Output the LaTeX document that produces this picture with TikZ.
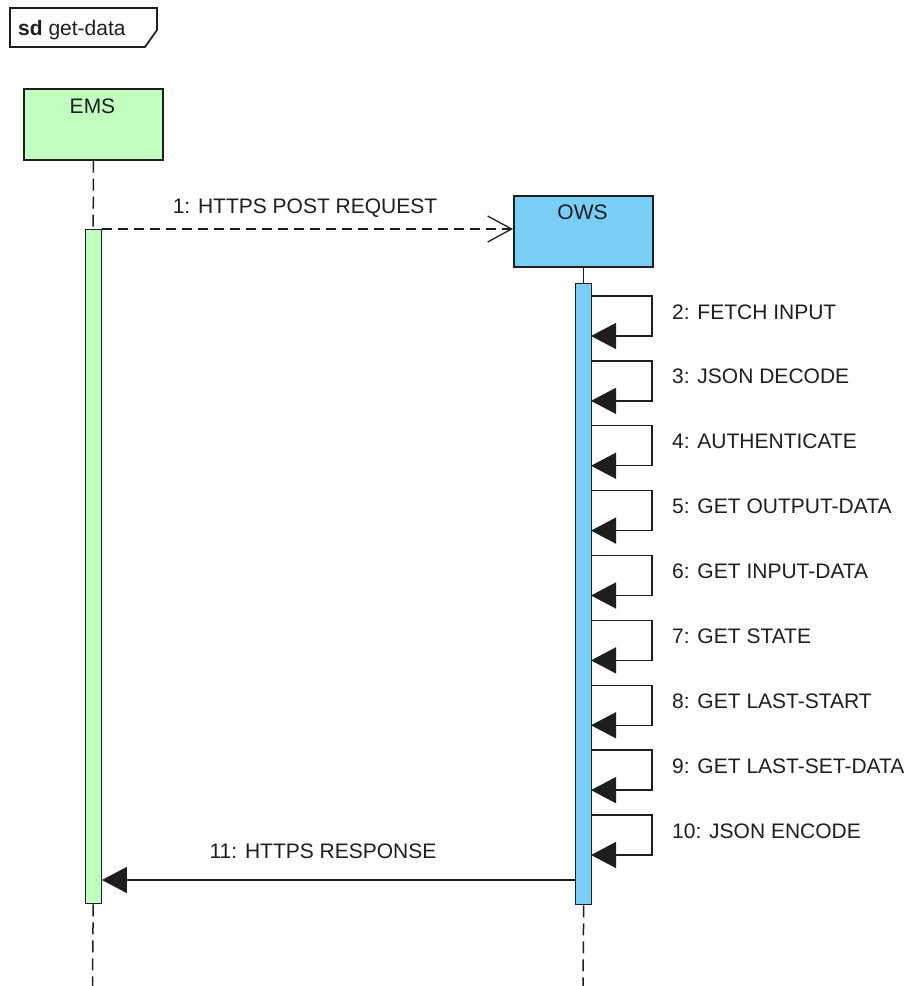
\documentclass[tikz,border=0pt]{standalone}
\usepackage{fontspec}
\setmainfont{Liberation Sans}
\usetikzlibrary{arrows.meta}
\definecolor{emsfill}{RGB}{192,255,192}
\definecolor{owsfill}{RGB}{122,206,245}
\definecolor{ink}{RGB}{30,30,30}
\begin{document}
\begin{tikzpicture}[x=1pt,y=-1pt,
  txt/.style={font=\fontsize{21}{24}\selectfont, text=ink, inner sep=0pt},
  headbox/.style={draw=ink, line width=1.7pt, minimum width=139pt, minimum height=71pt, anchor=north west, inner sep=0pt},
  actbar/.style={draw=ink, line width=1.4pt, minimum width=16pt, anchor=north west, inner sep=0pt},
  lifeline/.style={draw=ink, line width=1.5pt, dash pattern=on 12pt off 6pt},
  callline/.style={draw=ink, line width=1.3pt},
  filledtip/.style={-{Triangle[length=25pt,width=26pt]}},
  opentip/.style={-{Straight Barb[length=24pt,width=26pt]}}
]
\useasboundingbox (0,0) rectangle (920,986);

% frame tag
\draw[ink, line width=1.7pt] (10,8) -- (157,8) -- (157,30) -- (145,47) -- (10,47) -- cycle;
\node[txt, anchor=base west] (frametag) at (18,35) {\textbf{sd} get-data};

% lifeline heads
\node[headbox, fill=emsfill] (ems) at (23,88) {};
\node[txt, anchor=base] (emslbl) at (92.5,113) {EMS};
\node[headbox, fill=owsfill] (ows) at (513,195) {};
\node[txt, anchor=base] (owslbl) at (582.5,219) {OWS};

% activation bars
\node[actbar, fill=emsfill, minimum height=674pt] (emsact) at (84.5,229) {};
\node[actbar, fill=owsfill, minimum height=621pt] (owsact) at (575,283) {};

% lifelines
\coordinate (emsend) at (92.5,986);
\coordinate (owsend) at (583,986);
\draw[lifeline] (ems.south) -- (emsact.north);
\draw[lifeline] (emsact.south) -- (emsend);
\draw[callline, line width=1.5pt] (ows.south) -- (ows.south |- owsact.north);
\draw[lifeline] (owsact.south) -- (owsend);

% 1: request
\coordinate (req) at (emsact.north east);
\draw[callline, dash pattern=on 10pt off 6pt, opentip] (req) -- (ows.west |- req);
\node[txt, anchor=base] (m1) at (305,213) {1: HTTPS POST REQUEST};

% self calls
\foreach \n/\t [count=\k from 0] in {2/FETCH INPUT, 3/JSON DECODE, 4/AUTHENTICATE,
    5/GET OUTPUT-DATA, 6/GET INPUT-DATA, 7/GET STATE, 8/GET LAST-START,
    9/GET LAST-SET-DATA, 10/JSON ENCODE} {
  \pgfmathsetmacro\ytop{296+64.875*\k}
  \pgfmathsetmacro\ybot{\ytop+40}
  \coordinate (s\n a) at (591,\ytop);
  \coordinate (s\n b) at (652,\ytop);
  \coordinate (s\n c) at (652,\ybot);
  \coordinate (s\n d) at (591,\ybot);
  \draw[callline, filledtip] (s\n a) -- (s\n b) -- (s\n c) -- (s\n d);
  \node[txt, anchor=base west] (m\n) at (672,\ytop+23) {\n: \t};
}

% 11: response
\coordinate (resp) at (575,880);
\draw[callline, filledtip] (resp) -- (emsact.east |- resp);
\node[txt, anchor=base] (m11) at (323,858) {11: HTTPS RESPONSE};
\end{tikzpicture}
\end{document}
